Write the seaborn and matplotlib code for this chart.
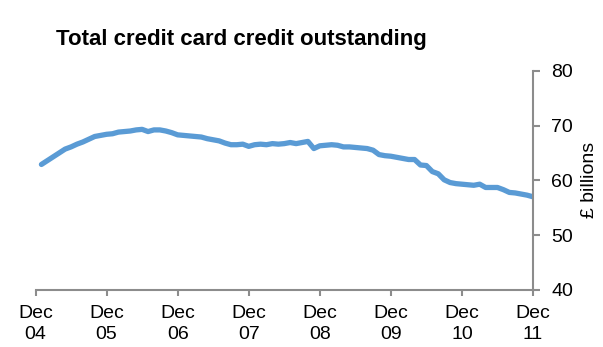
import matplotlib
matplotlib.use("Agg")
import matplotlib.pyplot as plt
import seaborn as sns
import pandas as pd

# Monthly outstanding balance, Jan 2005 .. Dec 2011 (month index 1..84, Dec 2004 = 0)
months = list(range(1, 85))
credit_outstanding = [
    62.9, 63.6, 64.3, 65.0, 65.7, 66.1, 66.6, 67.0, 67.5, 68.0, 68.2, 68.4,
    68.5, 68.8, 68.9, 69.0, 69.2, 69.3, 68.9, 69.2, 69.2, 69.0, 68.7, 68.3,
    68.2, 68.1, 68.0, 67.9, 67.6, 67.4, 67.2, 66.8, 66.5, 66.5, 66.6, 66.2,
    66.5, 66.6, 66.5, 66.7, 66.6, 66.7, 66.9, 66.7, 66.9, 67.1, 65.8, 66.3,
    66.4, 66.5, 66.4, 66.1, 66.1, 66.0, 65.9, 65.8, 65.5, 64.7, 64.5, 64.4,
    64.2, 64.0, 63.8, 63.8, 62.8, 62.7, 61.6, 61.2, 60.1, 59.6, 59.4, 59.3,
    59.2, 59.1, 59.3, 58.7, 58.7, 58.7, 58.3, 57.8, 57.7, 57.5, 57.3, 57.0,
]
tick_positions = [0, 12, 24, 36, 48, 60, 72, 84]
tick_labels = ["Dec\n04", "Dec\n05", "Dec\n06", "Dec\n07",
               "Dec\n08", "Dec\n09", "Dec\n10", "Dec\n11"]
y_ticks = [40, 50, 60, 70, 80]

sns.set_theme(style="white")
plt.rcParams["font.family"] = ["Liberation Sans", "DejaVu Sans"]
plt.rcParams["text.color"] = "black"

df = pd.DataFrame({"month": months, "value": credit_outstanding})

fig = plt.figure(figsize=(6.03, 3.47), dpi=100)
ax = fig.add_axes([35.5 / 603, 1 - 290 / 347, (533 - 35.5) / 603, (290 - 70.7) / 347])

sns.lineplot(data=df, x="month", y="value", ax=ax, color="#5A9BD5",
             linewidth=3.8, solid_capstyle="round")

ax.set_xlim(0, 84)
ax.set_ylim(40, 80)
ax.set_xticks(tick_positions)
ax.set_xticklabels(tick_labels, fontsize=14, linespacing=1.3, color="black")
ax.set_yticks(y_ticks)
ax.set_yticklabels([str(v) for v in y_ticks], fontsize=14, color="black")

ax.yaxis.tick_right()
ax.yaxis.set_label_position("right")
ax.set_xlabel("")
ax.set_ylabel("£ billions", fontsize=14, labelpad=6, color="black")

spine_color = "#8C8C8C"
for side in ("top", "left"):
    ax.spines[side].set_visible(False)
for side in ("bottom", "right"):
    ax.spines[side].set_visible(True)
    ax.spines[side].set_color(spine_color)
    ax.spines[side].set_linewidth(1.5)

ax.tick_params(axis="x", direction="out", length=4, width=1.5, color=spine_color,
               pad=7, bottom=True)
ax.tick_params(axis="y", direction="out", length=5, width=1.5, color=spine_color,
               pad=8, right=True, left=False)

fig.text(56 / 603, 1 - 40 / 347, "Total credit card credit outstanding",
         fontsize=16, fontweight="bold", va="center", ha="left", color="black")

fig.savefig("out.png", dpi=100, facecolor="white")
